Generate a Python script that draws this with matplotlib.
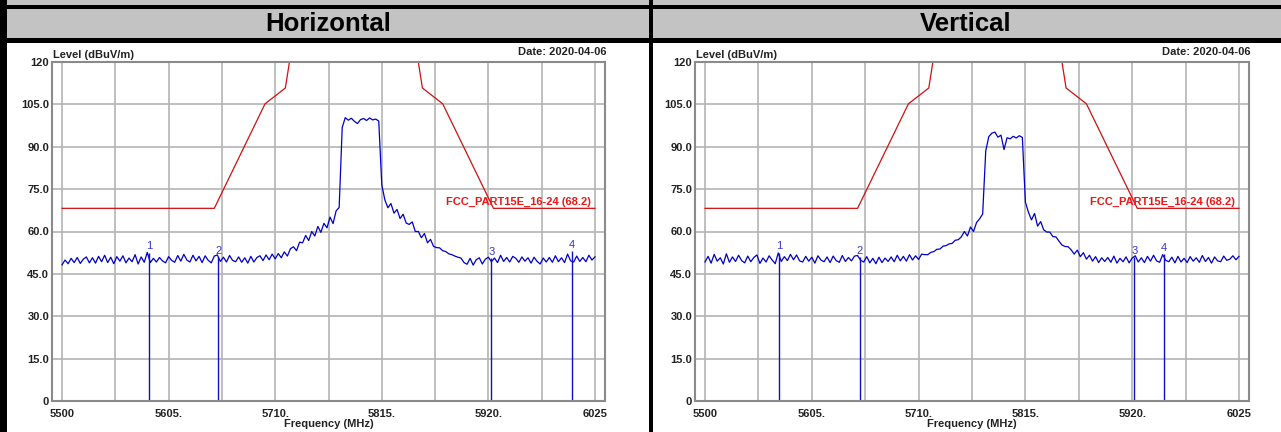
import numpy as np
import matplotlib
matplotlib.use('Agg')
import matplotlib.pyplot as plt
from matplotlib.patches import Rectangle

# sweep: 5500 MHz start, 3 MHz step
f_start = 5500
f_step = 3

h_level = [
    48.2, 49.9, 48.6, 50.5, 49.0, 50.8, 48.7, 50.2, 51.0, 48.9,
    50.7, 48.8, 51.2, 49.3, 51.6, 49.0, 50.9, 48.6, 51.1, 49.5,
    51.4, 48.9, 50.6, 49.3, 51.8, 48.5, 51.0, 49.1, 52.6, 49.0,
    50.5, 49.2, 50.8, 49.6, 48.9, 51.1, 49.8, 49.1, 51.5, 49.5,
    51.9, 49.9, 49.2, 51.6, 49.6, 51.2, 49.0, 51.4, 49.8, 48.9,
    51.3, 51.7, 49.4, 50.9, 49.2, 51.5, 49.8, 49.3, 51.0, 49.1,
    50.7, 48.8, 51.2, 49.2, 50.8, 51.4, 49.7, 51.7, 50.0, 52.0,
    50.3, 52.2, 50.7, 52.8, 51.3, 53.9, 54.6, 53.2, 56.2, 56.0,
    58.6, 56.8, 60.0, 58.4, 61.8, 59.7, 62.9, 61.3, 65.1, 62.8, 67.3,
    68.5,
    96.8,
    100.3, 99.4, 100.1, 99.0, 98.2, 99.6, 100.0, 99.3, 100.2, 99.5, 99.8, 99.1,
    76.5, 71.2,
    68.4, 69.9, 66.5, 67.8, 64.6, 66.1, 63.0, 62.5, 63.4, 60.0, 60.0, 57.8, 59.3, 56.0,
    57.2, 54.7, 54.3, 54.2, 53.2, 52.9, 52.1, 51.8, 51.3, 50.9,
    50.6, 49.0, 48.4, 50.5, 48.1, 50.0, 50.7, 48.5, 50.2, 50.9,
    49.3, 50.6, 49.0, 51.6, 49.4, 50.8, 49.2, 51.2, 50.5, 49.1,
    51.0, 49.5, 50.7, 48.8, 50.9, 49.4, 48.5, 50.6, 49.2, 50.8,
    49.1, 51.4, 49.3, 50.7, 49.0, 52.0, 49.6, 49.2, 51.3, 49.4,
    50.8, 49.3, 51.6, 49.9, 51.0,
]

v_level = [
    49.2, 51.2, 48.8, 51.9, 49.5, 50.7, 48.5, 52.1, 49.1, 51.0,
    49.4, 51.6, 49.7, 48.9, 51.3, 49.3, 50.8, 51.7, 48.7, 50.6,
    49.2, 51.4, 49.9, 48.6, 52.4, 49.4, 51.1, 49.7, 51.9, 50.0,
    51.7, 49.6, 49.2, 51.2, 49.5, 50.9, 48.8, 51.4, 49.9, 49.3,
    51.0, 49.0, 51.3, 49.7, 49.1, 51.5, 49.4, 50.8, 49.6, 51.3,
    51.5, 49.8, 49.2, 51.1, 48.9, 50.5, 48.6, 50.9, 49.0, 50.6,
    49.4, 51.0, 49.3, 51.6, 49.6, 51.2, 49.5, 51.8, 49.9, 51.4,
    50.1, 52.0, 51.8, 51.8, 52.6, 52.9, 53.7, 53.8, 54.8, 55.0,
    55.6, 55.8, 56.9, 57.1, 58.1, 60.0, 58.4, 61.6, 60.0, 63.2, 64.5,
    66.2,
    88.5,
    93.6, 94.8, 95.2, 93.4, 94.1, 89.0, 93.2, 92.8, 93.7, 93.1, 93.9, 93.3,
    70.4, 66.8,
    64.1, 66.4, 61.9, 63.5, 60.6, 59.8, 59.8, 58.2, 58.1, 56.6, 55.2, 54.7, 54.6, 53.5,
    52.0, 53.4, 51.1, 52.5, 50.2, 51.6, 49.5, 51.1, 49.0, 50.7,
    49.4, 50.8, 49.1, 51.3, 48.8, 50.5, 49.3, 51.0, 48.9, 50.6,
    51.4, 49.2, 50.7, 49.0, 51.2, 49.5, 51.6, 49.6, 49.1, 51.8,
    49.8, 49.3, 50.9, 48.9, 51.2, 49.2, 50.5, 49.0, 51.1, 49.5,
    50.7, 49.1, 51.5, 49.4, 50.8, 48.8, 51.0, 49.6, 49.3, 51.3,
    49.8, 50.2, 51.4, 50.0, 51.2,
]

limit_freq = [5500, 5650, 5700, 5720, 5725, 5850, 5855, 5875, 5925, 6025]
limit_level = [68.2, 68.2, 105.2, 110.8, 122.2, 122.2, 110.8, 105.2, 68.2, 68.2]

h_marker_freq = [5586, 5654, 5923, 6002]
h_marker_level = [52.5, 51.0, 50.5, 53.0]
v_marker_freq = [5573, 5652, 5922, 5951]
v_marker_level = [52.5, 51.0, 51.0, 52.0]
marker_names = ['1', '2', '3', '4']

y_ticks = [0, 15, 30, 45, 60, 75, 90, 105, 120]
y_ticklabels = ['0', '15.0', '30.0', '45.0', '60.0', '75.0', '90.0', '105.0', '120']
x_ticks = [5500, 5605, 5710, 5815, 5920, 6025]
x_ticklabels = ['5500', '5605.', '5710.', '5815.', '5920.', '6025']
x_minor = [5552.5, 5657.5, 5762.5, 5867.5, 5972.5]

limit_name = 'FCC_PART15E_16-24 (68.2)'
date_text = 'Date: 2020-04-06'

plt.rcParams['font.family'] = ['Liberation Sans', 'DejaVu Sans']
plt.rcParams['font.weight'] = 'bold'
plt.rcParams['axes.labelweight'] = 'bold'

W, H = 1281, 432
fig = plt.figure(figsize=(W / 100, H / 100), dpi=100)
fig.patch.set_facecolor('white')


def px_rect(x0, y0, x1, y1):
    return [x0 / W, 1 - y1 / H, (x1 - x0) / W, (y1 - y0) / H]


# table frame behind the charts
bg = fig.add_axes([0, 0, 1, 1])
bg.set_xlim(0, W)
bg.set_ylim(H, 0)
bg.axis('off')
gray = '#c3c3c3'
bg.add_patch(Rectangle((0, 0), W, 5, color=gray, lw=0))
bg.add_patch(Rectangle((0, 9), W, 29, color=gray, lw=0))
bg.add_patch(Rectangle((0, 5), W, 4, color='black', lw=0))
bg.add_patch(Rectangle((0, 38), W, 5, color='black', lw=0))
bg.add_patch(Rectangle((0, 0), 7, H, color='black', lw=0))
bg.add_patch(Rectangle((649, 0), 4, H, color='black', lw=0))
bg.text(328, 24, 'Horizontal', ha='center', va='center', fontsize=18.5)
bg.text(966, 24, 'Vertical', ha='center', va='center', fontsize=18.5)


def draw_panel(rect, level, m_freq, m_level):
    ax = fig.add_axes(rect)
    freq = f_start + f_step * np.arange(len(level))
    ax.set_xlim(5490.15, 6034.85)
    ax.set_ylim(0, 120)
    ax.set_xticks(x_ticks)
    ax.set_xticklabels(x_ticklabels)
    ax.set_xticks(x_minor, minor=True)
    ax.set_yticks(y_ticks)
    ax.set_yticklabels(y_ticklabels)
    ax.tick_params(which='both', length=0, labelsize=8, colors='#222222')
    ax.tick_params(axis='x', pad=6)
    ax.tick_params(axis='y', pad=2)
    ax.grid(True, which='both', color='#b4b4b4', lw=1.2)
    ax.set_axisbelow(True)
    for s in ax.spines.values():
        s.set_color('#8a8a8a')
        s.set_linewidth(1.5)

    ax.plot(limit_freq, limit_level, color='#d01010', lw=0.9)
    ax.plot(freq, level, color='#0000c8', lw=0.9)
    for name, mf, ml in zip(marker_names, m_freq, m_level):
        ax.vlines(mf, 0, ml, color='#1010c0', lw=1.0)
        ax.annotate(name, (mf, ml), xytext=(0, 1), textcoords='offset points',
                    ha='center', va='bottom', fontsize=8, fontweight='normal',
                    color='#3535d0')

    ax.annotate(limit_name, (6021, 68.2), xytext=(0, 1), textcoords='offset points',
                ha='right', va='bottom', fontsize=8, color='#ee1515')
    ax.text(0.002, 1.005, 'Level (dBuV/m)', transform=ax.transAxes,
            ha='left', va='bottom', fontsize=8, color='#222222')
    ax.text(1.003, 1.015, date_text, transform=ax.transAxes,
            ha='right', va='bottom', fontsize=8, color='#222222')
    ax.set_xlabel('Frequency (MHz)', fontsize=8, labelpad=0, color='#222222')
    return ax


draw_panel(px_rect(52, 62, 605, 401), h_level, h_marker_freq, h_marker_level)
draw_panel(px_rect(695, 62, 1249, 401), v_level, v_marker_freq, v_marker_level)

fig.savefig('out.png', dpi=100)
plt.close(fig)
